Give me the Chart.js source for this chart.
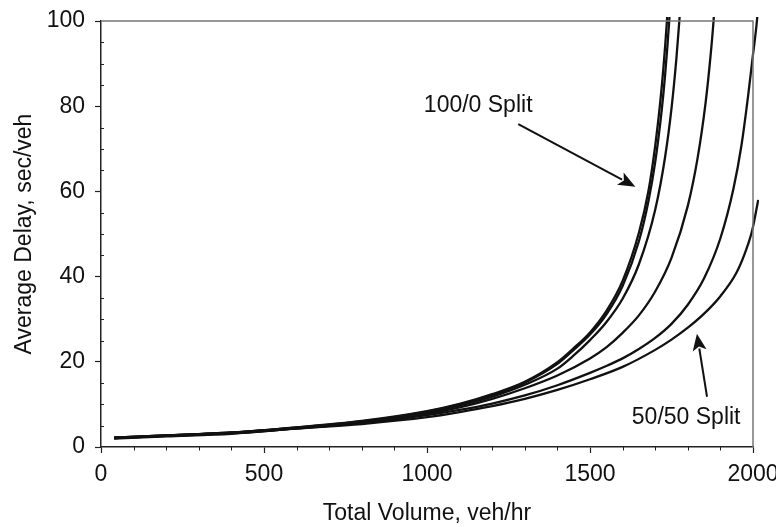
<!DOCTYPE html>
<html>
<head>
<meta charset="utf-8">
<script src="https://cdn.jsdelivr.net/npm/chart.js@4.4.1/dist/chart.umd.min.js"></script>
<style>
  html, body { margin: 0; padding: 0; background: #fff; }
  #wrap { width: 776px; height: 527px; }
</style>
</head>
<body>
<div id="wrap"><canvas id="c" width="776" height="527"></canvas></div>
<script>
// ---- Data ----
const seriesNames = ['100/0', '90/10', '80/20', '70/30', '60/40', '50/50'];

const volume_100_0 = [40, 200, 400, 600, 800, 1000, 1100, 1200, 1300, 1400, 1450, 1500, 1550, 1600, 1650, 1680, 1700, 1715, 1725, 1736, 1745];
const delay_100_0  = [2.2, 2.7, 3.4, 4.6, 6.1, 8.4, 10.1, 12.4, 15.3, 19.9, 23.2, 26.9, 31.9, 39.0, 50.3, 60.4, 70.7, 80.6, 88.8, 100.0, 111.5];

const volume_90_10 = [40, 200, 400, 600, 800, 1000, 1100, 1200, 1300, 1400, 1450, 1500, 1550, 1600, 1650, 1680, 1700, 1720, 1730, 1743, 1750];
const delay_90_10  = [2.2, 2.7, 3.4, 4.6, 6.0, 8.3, 10.0, 12.2, 15.1, 19.5, 22.8, 26.4, 31.1, 37.8, 48.3, 58.0, 66.9, 79.1, 87.0, 100.0, 108.8];

const volume_80_20 = [40, 200, 400, 600, 800, 1000, 1100, 1200, 1300, 1400, 1450, 1500, 1550, 1600, 1650, 1700, 1730, 1750, 1765, 1774, 1782];
const delay_80_20  = [2.2, 2.7, 3.3, 4.5, 5.9, 8.1, 9.7, 11.8, 14.6, 18.4, 21.5, 25.1, 29.3, 34.8, 42.9, 55.7, 67.9, 79.5, 91.2, 100.0, 109.0];

const volume_70_30 = [40, 200, 400, 600, 800, 1000, 1100, 1200, 1300, 1400, 1500, 1550, 1600, 1650, 1700, 1750, 1800, 1830, 1855, 1870, 1879, 1886];
const delay_70_30  = [2.1, 2.6, 3.3, 4.4, 5.7, 7.8, 9.3, 11.3, 13.8, 16.8, 20.8, 23.4, 26.8, 30.9, 36.5, 44.4, 56.6, 67.8, 81.1, 92.0, 100.0, 108.0];

const volume_60_40 = [40, 200, 400, 600, 800, 1000, 1100, 1200, 1300, 1400, 1500, 1550, 1600, 1650, 1700, 1750, 1800, 1850, 1900, 1940, 1965, 1985, 1999, 2012, 2018];
const delay_60_40  = [2.1, 2.6, 3.2, 4.35, 5.6, 7.5, 8.7, 10.2, 12.1, 14.5, 17.4, 19.0, 20.8, 23.0, 25.6, 28.9, 33.4, 39.6, 49.0, 60.6, 71.0, 82.4, 91.5, 100.0, 106.0];

const volume_50_50 = [40, 200, 400, 600, 800, 1000, 1100, 1200, 1300, 1400, 1500, 1600, 1700, 1750, 1800, 1850, 1900, 1950, 1980, 1998, 2016];
const delay_50_50  = [2.0, 2.5, 3.1, 4.3, 5.4, 7.0, 8.2, 9.6, 11.3, 13.4, 15.9, 18.8, 22.8, 25.2, 28.0, 31.3, 35.4, 41.0, 46.5, 51.0, 58.0];

// axis ticks
const xTickValues = [0, 500, 1000, 1500, 2000];
const yTickValues = [0, 20, 40, 60, 80, 100];
const xMinorStep = 100;
const yMinorStep = 5;

// annotations (data coordinates)
const noteTexts        = ['100/0 Split', '50/50 Split'];
const noteVolumes      = [1157, 1795];
const noteDelays       = [80.2, 7.0];
const arrowFromVolumes = [1280, 1859];
const arrowFromDelays  = [75.8, 11.8];
const arrowToVolumes   = [1639, 1828];
const arrowToDelays    = [61.1, 26.6];

// ---- Build chart ----
const FONT = "'Liberation Sans', Arial, Helvetica, sans-serif";
const FSIZE = 23;
const INK = '#111';

function pts(xs, ys) { return xs.map((x, i) => ({ x: x, y: ys[i] })); }

const allVolumes = [volume_100_0, volume_90_10, volume_80_20, volume_70_30, volume_60_40, volume_50_50];
const allDelays  = [delay_100_0, delay_90_10, delay_80_20, delay_70_30, delay_60_40, delay_50_50];

const datasets = seriesNames.map((name, i) => ({
  label: name,
  data: pts(allVolumes[i], allDelays[i]),
  borderColor: INK,
  borderWidth: 2.3,
  pointRadius: 0,
  fill: false,
  cubicInterpolationMode: 'monotone',
  clip: { left: 0, top: 4, right: 6, bottom: 0 }
}));

const extrasPlugin = {
  id: 'extras',
  afterDraw(chart) {
    const ctx = chart.ctx;
    const xs = chart.scales.x, ys = chart.scales.y;
    const a = chart.chartArea;
    ctx.save();
    // top and right frame
    ctx.strokeStyle = '#777';
    ctx.lineWidth = 1.5;
    ctx.beginPath();
    ctx.moveTo(a.left, a.top); ctx.lineTo(a.right, a.top); ctx.lineTo(a.right, a.bottom);
    ctx.stroke();
    // minor ticks
    ctx.strokeStyle = '#222';
    ctx.lineWidth = 1;
    ctx.beginPath();
    for (let v = xs.min + xMinorStep; v < xs.max; v += xMinorStep) {
      if (xTickValues.includes(v)) continue;
      const px = Math.round(xs.getPixelForValue(v)) + 0.5;
      ctx.moveTo(px, a.bottom); ctx.lineTo(px, a.bottom + 3.5);
    }
    for (let v = ys.min + yMinorStep; v < ys.max; v += yMinorStep) {
      if (yTickValues.includes(v)) continue;
      const py = Math.round(ys.getPixelForValue(v)) + 0.5;
      ctx.moveTo(a.left - 1, py); ctx.lineTo(a.left + 3, py);
    }
    ctx.stroke();
    // annotations
    ctx.fillStyle = INK;
    ctx.font = FSIZE + 'px ' + FONT;
    ctx.textAlign = 'center';
    ctx.textBaseline = 'middle';
    noteTexts.forEach((t, i) => {
      ctx.fillText(t, xs.getPixelForValue(noteVolumes[i]), ys.getPixelForValue(noteDelays[i]));
    });
    ctx.strokeStyle = INK;
    ctx.lineWidth = 2;
    arrowFromVolumes.forEach((v, i) => {
      const x1 = xs.getPixelForValue(v), y1 = ys.getPixelForValue(arrowFromDelays[i]);
      const x2 = xs.getPixelForValue(arrowToVolumes[i]), y2 = ys.getPixelForValue(arrowToDelays[i]);
      const ang = Math.atan2(y2 - y1, x2 - x1);
      const L = 17, W = 7;
      const bx = x2 - L * Math.cos(ang), by = y2 - L * Math.sin(ang);
      ctx.beginPath();
      ctx.moveTo(x1, y1); ctx.lineTo(bx + 2 * Math.cos(ang), by + 2 * Math.sin(ang));
      ctx.stroke();
      ctx.beginPath();
      ctx.moveTo(x2, y2);
      ctx.lineTo(bx + W * Math.sin(ang), by - W * Math.cos(ang));
      ctx.lineTo(bx + 4 * Math.cos(ang), by + 4 * Math.sin(ang));
      ctx.lineTo(bx - W * Math.sin(ang), by + W * Math.cos(ang));
      ctx.closePath();
      ctx.fill();
    });
    ctx.restore();
  }
};

const bgPlugin = {
  id: 'bg',
  beforeDraw(chart) {
    const ctx = chart.ctx;
    ctx.save();
    ctx.fillStyle = '#fff';
    ctx.fillRect(0, 0, chart.width, chart.height);
    ctx.restore();
  }
};

new Chart(document.getElementById('c'), {
  type: 'line',
  data: { datasets: datasets },
  options: {
    responsive: false,
    animation: false,
    events: [],
    layout: { padding: { left: 0, right: 23, top: 21, bottom: 0 } },
    plugins: { legend: { display: false }, tooltip: { enabled: false } },
    scales: {
      x: {
        type: 'linear',
        afterDataLimits(s) { s.min = xTickValues[0]; s.max = xTickValues[xTickValues.length - 1]; },
        afterBuildTicks(s) { s.ticks = xTickValues.map(v => ({ value: v })); },
        ticks: { color: INK, padding: 8, maxRotation: 0, autoSkip: false, font: { family: FONT, size: FSIZE }, callback: v => String(v) },
        grid: { drawOnChartArea: false, drawTicks: true, tickLength: 6, tickColor: '#222', tickWidth: 1.2 },
        border: { display: true, color: '#222', width: 1.5 },
        title: { display: true, text: 'Total Volume, veh/hr', color: INK, font: { family: FONT, size: FSIZE }, padding: { top: 0, bottom: 0 } },
        afterFit(s) { s.height = 80; s.paddingLeft = 0; s.paddingRight = 0; }
      },
      y: {
        type: 'linear',
        min: 0, max: 100,
        afterBuildTicks(s) { s.ticks = yTickValues.map(v => ({ value: v })); },
        ticks: { color: INK, padding: 10, font: { family: FONT, size: FSIZE }, callback: v => String(v) },
        grid: { drawOnChartArea: false, drawTicks: true, tickLength: 6, tickColor: '#222', tickWidth: 1.2 },
        border: { display: true, color: '#222', width: 1.5 },
        title: { display: true, text: 'Average Delay, sec/veh', color: INK, font: { family: FONT, size: FSIZE }, padding: { top: 11, bottom: 0 } },
        afterFit(s) { s.width = 101; s.paddingTop = 0; s.paddingBottom = 0; }
      }
    }
  },
  plugins: [bgPlugin, extrasPlugin]
});
</script>
</body>
</html>
